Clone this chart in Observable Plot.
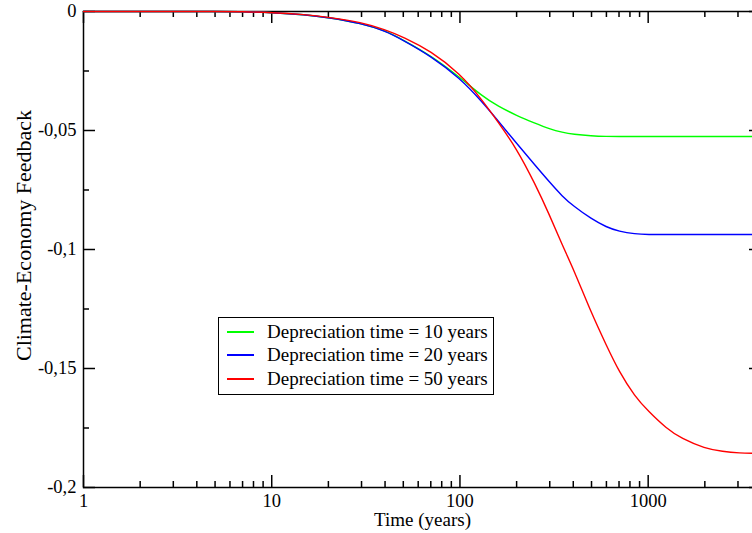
<!DOCTYPE html>
<html>
<head>
<meta charset="utf-8">
<script src="https://cdn.jsdelivr.net/npm/d3@7"></script>
<script src="https://cdn.jsdelivr.net/npm/@observablehq/plot@0.6"></script>
<style>
  html, body { margin: 0; padding: 0; background: #fff; }
  body { width: 752px; height: 533px; overflow: hidden; position: relative; font-family: "Liberation Serif", "DejaVu Serif", serif; }
  #chart { position: absolute; left: 0; top: 0; width: 770px; height: 533px; }
  #chart svg { max-width: none !important; width: 770px; height: 533px; display: block; }
  #legend { position: absolute; left: 218px; top: 317px; width: 276px; height: 78px; border: 1px solid #000; background: #fff; box-sizing: border-box; }
  #legend .row { position: absolute; left: 0; height: 22px; width: 100%; }
  #legend .sw { position: absolute; left: 8px; width: 27px; height: 1.5px; }
  #legend .lab { position: absolute; left: 48px; font-size: 19px; line-height: 22px; white-space: nowrap; color: #000; }
</style>
</head>
<body>
<div id="chart"></div>
<div id="legend"></div>
<script>
// ---- data ----
const times = [1, 2, 3, 5, 7, 10, 15, 20, 30, 40, 50, 70, 100, 130, 160, 200, 250, 300, 350, 400, 500, 600, 700, 850, 1000, 1250, 1500, 2000, 2500, 3000, 4000];
const dep10 = [0, 0, 0, 0, -0.0001, -0.0004, -0.0013, -0.0025, -0.005, -0.008, -0.012, -0.0185, -0.0277, -0.0353, -0.0399, -0.0437, -0.0469, -0.0494, -0.0508, -0.0516, -0.0523, -0.0525, -0.0525, -0.0525, -0.0525, -0.0525, -0.0525, -0.0525, -0.0525, -0.0525, -0.0525];
const dep20 = [0, 0, 0, 0, -0.0001, -0.0004, -0.0013, -0.0025, -0.005, -0.0081, -0.0121, -0.0187, -0.028, -0.0376, -0.0461, -0.0554, -0.0645, -0.0718, -0.0777, -0.0817, -0.0872, -0.0906, -0.0924, -0.0935, -0.0937, -0.0937, -0.0937, -0.0937, -0.0937, -0.0937, -0.0937];
const dep50 = [0, 0, 0, 0, -0.0001, -0.0004, -0.0013, -0.0024, -0.0045, -0.0076, -0.0107, -0.0166, -0.0261, -0.0367, -0.0466, -0.0576, -0.0722, -0.0857, -0.0983, -0.108, -0.1269, -0.1403, -0.1513, -0.1618, -0.1679, -0.1752, -0.1794, -0.1836, -0.1849, -0.1855, -0.1857];
const seriesNames = ["Depreciation time = 10 years", "Depreciation time = 20 years", "Depreciation time = 50 years"];
const seriesColors = ["#00ff00", "#0000ff", "#ff0000"];
const xMajor = [1, 10, 100, 1000];
const xMinor = [2, 3, 4, 5, 6, 7, 8, 9, 20, 30, 40, 50, 60, 70, 80, 90, 200, 300, 400, 500, 600, 700, 800, 900, 2000, 3000];
const yMajor = [0, -0.05, -0.1, -0.15, -0.2];
const yMinor = [-0.025, -0.075, -0.125, -0.175];
const xTitle = "Time (years)";
const yTitle = "Climate-Economy Feedback";

// ---- build ----
const allSeries = [dep10, dep20, dep50];
const rows = [];
allSeries.forEach((vals, s) => vals.forEach((v, i) => rows.push({t: times[i], v, s: seriesNames[s]})));

const W = 770, H = 533;
const mL = 83, mT = 11, mB = 46, mR = 9;
const fw = W - mL - mR, fh = H - mT - mB;
const fmt = d => d === 0 ? "0" : String(d).replace(".", ",");
const font = "Liberation Serif, DejaVu Serif, serif";

const chart = Plot.plot({
  width: W, height: H,
  marginLeft: mL, marginTop: mT, marginBottom: mB, marginRight: mR,
  style: {fontFamily: font, fontSize: "18.5px", color: "#000", background: "#fff", maxWidth: "none"},
  x: {type: "log", domain: [1, 4000]},
  y: {domain: [-0.2, 0]},
  color: {domain: seriesNames, range: seriesColors},
  marks: [
    Plot.axisX({ticks: xMajor, tickFormat: d => String(d), tickSize: 0, tickPadding: 6, label: null, fontSize: 18.5}),
    Plot.axisY({ticks: yMajor, tickFormat: fmt, tickSize: 0, tickPadding: 7, label: null, fontSize: 18.5}),
    // inward ticks, bottom & top
    Plot.tickX(xMajor, {x: d => d, insetTop: fh - 12, stroke: "#000", strokeWidth: 1.5}),
    Plot.tickX(xMajor, {x: d => d, insetBottom: fh - 12, stroke: "#000", strokeWidth: 1.5}),
    Plot.tickX(xMinor, {x: d => d, insetTop: fh - 6, stroke: "#000", strokeWidth: 1.5}),
    Plot.tickX(xMinor, {x: d => d, insetBottom: fh - 6, stroke: "#000", strokeWidth: 1.5}),
    // inward ticks, left & right
    Plot.tickY(yMajor, {y: d => d, insetRight: fw - 12, stroke: "#000", strokeWidth: 1.5}),
    Plot.tickY(yMajor, {y: d => d, insetLeft: fw - 12, stroke: "#000", strokeWidth: 1.5}),
    Plot.tickY(yMinor, {y: d => d, insetRight: fw - 6, stroke: "#000", strokeWidth: 1.5}),
    Plot.tickY(yMinor, {y: d => d, insetLeft: fw - 6, stroke: "#000", strokeWidth: 1.5}),
    Plot.frame({stroke: "#000", strokeWidth: 1.5}),
    Plot.line(rows, {x: "t", y: "v", z: "s", stroke: "s", strokeWidth: 1.4, curve: "basis"}),
    Plot.text([xTitle], {frameAnchor: "bottom", textAnchor: "middle", lineAnchor: "middle", dy: 32, fontSize: 19, fill: "#000"}),
    Plot.text([yTitle], {frameAnchor: "left", textAnchor: "middle", lineAnchor: "middle", rotate: -90, dx: -60, dy: -14, fontSize: 22, fill: "#000"})
  ]
});
chart.style.maxWidth = "none";
document.getElementById("chart").appendChild(chart);

// legend
const leg = document.getElementById("legend");
const rowY = [14, 37, 61];
seriesNames.forEach((name, i) => {
  const r = document.createElement("div");
  r.className = "row";
  r.style.top = (rowY[i] - 11) + "px";
  const sw = document.createElement("div");
  sw.className = "sw";
  sw.style.top = "10px";
  sw.style.background = seriesColors[i];
  const lab = document.createElement("div");
  lab.className = "lab";
  lab.style.top = "0px";
  lab.textContent = name;
  r.appendChild(sw); r.appendChild(lab);
  leg.appendChild(r);
});
</script>
</body>
</html>
